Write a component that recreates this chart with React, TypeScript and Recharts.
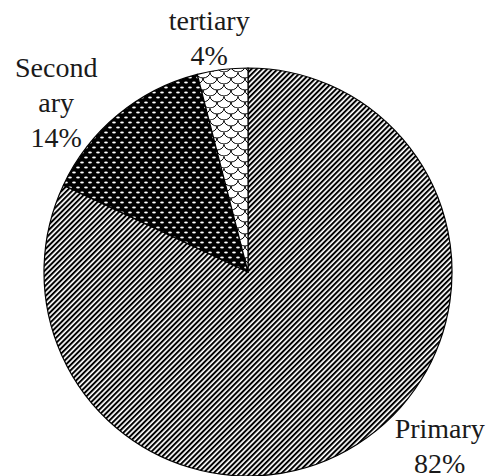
import React from 'react';
import { PieChart, Pie, Cell } from 'recharts';

// Sector names, shares (%), and how each label is broken over lines
const sectors = ['Primary', 'Secondary', 'tertiary'];
const shares = [82, 14, 4];
const labelLines = [['Primary'], ['Second', 'ary'], ['tertiary']];

const patternIds = ['p-primary', 'p-secondary', 'p-tertiary'];
// label anchor, in multiples of the outer radius from the centre
const labelAnchors = [
  { kx: 0.94, ky: 0.815 },
  { kx: -0.94, ky: -0.955 },
  { kx: -0.19, ky: -1.185 },
];

const data = sectors.map((name, i) => ({ name, value: shares[i] }));

const FONT = '"Liberation Serif", "Times New Roman", serif';

const renderLabel = (props: any) => {
  const { cx, cy, outerRadius, index, value } = props;
  const a = labelAnchors[index];
  const x = cx + a.kx * outerRadius;
  const y = cy + a.ky * outerRadius;
  const lines = [...labelLines[index], `${value}%`];
  return (
    <text x={x} y={y} textAnchor="middle" fontFamily={FONT} fontSize={28} fill="#1a1a1a">
      {lines.map((l, i) => (
        <tspan key={i} x={x} dy={i === 0 ? 0 : 35}>{l}</tspan>
      ))}
    </text>
  );
};

const App: React.FC = () => {
  return (
    <div style={{ position: 'absolute', left: 0, top: 0, width: 490, height: 476, background: '#fff' }}>
      <svg width={0} height={0} style={{ position: 'absolute' }}>
        <defs>
          <pattern id="p-primary" width={3.7} height={3.7} patternUnits="userSpaceOnUse" patternTransform="rotate(45)">
            <rect width={3.7} height={3.7} fill="#fff" />
            <rect width={2.0} height={3.7} fill="#000" />
          </pattern>
          <pattern id="p-secondary" width={8} height={10} patternUnits="userSpaceOnUse">
            <rect width={8} height={10} fill="#000" />
            <ellipse cx={2} cy={2.5} rx={1.9} ry={1.1} fill="#fff" />
            <ellipse cx={6} cy={7.5} rx={1.9} ry={1.1} fill="#fff" />
          </pattern>
          <pattern id="p-tertiary" width={14} height={12} patternUnits="userSpaceOnUse">
            <rect width={14} height={12} fill="#fff" />
            <path
              d="M0 0 A7 6 0 0 0 14 0 M-7 6 A7 6 0 0 0 7 6 M7 6 A7 6 0 0 0 21 6 M0 12 A7 6 0 0 0 14 12"
              fill="none"
              stroke="#000"
              strokeWidth={1}
            />
          </pattern>
        </defs>
      </svg>
      <PieChart width={490} height={476} margin={{ top: 0, right: 0, bottom: 0, left: 0 }}>
        <Pie
          data={data}
          dataKey="value"
          nameKey="name"
          cx={248}
          cy={272}
          outerRadius={204}
          startAngle={90}
          endAngle={-270}
          label={renderLabel}
          labelLine={false}
          isAnimationActive={false}
        >
          {data.map((d, i) => (
            <Cell key={d.name} fill={`url(#${patternIds[i]})`} stroke="#000" strokeWidth={1.2} />
          ))}
        </Pie>
      </PieChart>
    </div>
  );
};

export default App;
